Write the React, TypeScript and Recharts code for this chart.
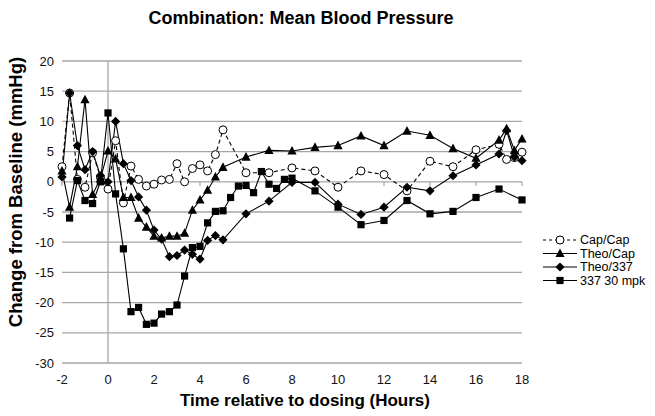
import React from "react";
import {
  LineChart,
  Line,
  XAxis,
  YAxis,
  CartesianGrid,
  ReferenceLine,
} from "recharts";

// hours relative to dosing
const times = [
  -2, -1.67, -1.33, -1, -0.67, -0.33, 0, 0.33, 0.67, 1, 1.33, 1.67, 2, 2.33, 2.67, 3, 3.33, 3.67, 4,
  4.33, 4.67, 5, 5.33, 5.67, 6, 6.33, 6.67, 7, 7.33, 7.67, 8, 9, 10, 11, 12, 13, 14, 15, 16, 17,
  17.33, 17.67, 18,
];

const capCap = [
  2.5, 14.7, 0.4, -0.9, 4.8, 0.8, -1.2, 6.8, -3.5, 2.6, 0.4, -0.7, -0.4, 0.3, 0.4, 3.0, 0.0, 2.2, 2.8,
  1.8, 4.5, 8.6, null, null, 1.5, null, null, 1.5, null, null, 2.3, 1.8, -0.9, 1.8, 1.2, -1.5, 3.4,
  2.5, 5.3, 6.2, 3.7, 4.0, 4.9,
];

const theoCap = [
  1.8, -4.2, 2.5, 13.6, -2.1, 0.5, 5.1, 3.8, -2.6, -2.6, -6.0, -7.5, -9.0, -9.3, -9.0, -9.0, -8.5,
  -4.7, -3.0, -1.4, 0.8, 2.4, null, null, 4.1, null, null, 5.2, null, null, 5.1, 5.7, 6.0, 7.6, 6.0,
  8.4, 7.7, 5.5, 3.9, 6.9, 8.8, 5.2, 7.1,
];

const theo337 = [
  0.8, 14.7, 6.0, 2.0, 5.0, 1.0, 0.0, 10.0, 3.0, 0.2, -2.5, -4.7, -8.0, -9.5, -12.4, -12.2, -11.3,
  -12.0, -12.8, -9.7, -8.9, -9.6, null, null, -5.3, null, null, -3.2, null, null, -0.1, -0.1, -3.7,
  -5.4, -4.2, -0.9, -1.5, 1.0, 2.8, 4.6, 8.5, 4.1, 3.5,
];

const mpk337 = [
  null, -6.0, 0.2, -3.1, -3.6, 0.0, 11.4, -2.0, -11.1, -21.5, -20.8, -23.6, -23.4, -21.9, -21.5,
  -20.4, -15.6, -10.9, -10.7, -6.8, -4.9, -4.8, -2.6, -0.7, -0.6, -1.8, 1.7, -0.4, -1.1, 0.4, 0.6,
  -1.5, -4.2, -7.1, -6.4, -3.1, -5.3, -4.9, -2.6, -1.2, null, null, -3.0,
];

const xTicks = [-2, 0, 2, 4, 6, 8, 10, 12, 14, 16, 18];
const yTicks = [-30, -25, -20, -15, -10, -5, 0, 5, 10, 15, 20];

const data = times.map((t, i) => ({
  t,
  capCap: capCap[i],
  theoCap: theoCap[i],
  theo337: theo337[i],
  mpk337: mpk337[i],
}));

const font = "'Liberation Sans', Arial, Helvetica, sans-serif";

type Shape = "circle" | "triangle" | "diamond" | "square";

function marker(shape: Shape, cx: number, cy: number, key?: string) {
  if (shape === "circle")
    return <circle key={key} cx={cx} cy={cy} r={4} fill="#fff" stroke="#000" strokeWidth={1} />;
  if (shape === "triangle")
    return (
      <polygon
        key={key}
        points={`${cx},${cy - 5} ${cx - 4.6},${cy + 3.6} ${cx + 4.6},${cy + 3.6}`}
        fill="#000"
      />
    );
  if (shape === "diamond")
    return (
      <polygon
        key={key}
        points={`${cx},${cy - 4.6} ${cx + 4.6},${cy} ${cx},${cy + 4.6} ${cx - 4.6},${cy}`}
        fill="#000"
      />
    );
  return <rect key={key} x={cx - 3.6} y={cy - 3.6} width={7.2} height={7.2} fill="#000" />;
}

const dotFor = (shape: Shape) => (p: any) => {
  const { cx, cy, key, value } = p;
  if (cx == null || cy == null || value == null) return <g key={key} />;
  return marker(shape, cx, cy, key);
};

const legendItems: { name: string; shape: Shape; dash?: string }[] = [
  { name: "Cap/Cap", shape: "circle", dash: "3 3" },
  { name: "Theo/Cap", shape: "triangle" },
  { name: "Theo/337", shape: "diamond" },
  { name: "337 30 mpk", shape: "square" },
];

export default function App() {
  return (
    <div style={{ position: "absolute", left: 0, top: 0, width: 655, height: 416, background: "#fff" }}>
      <LineChart
        width={655}
        height={416}
        data={data}
        margin={{ top: 61, right: 133, bottom: 23, left: 0 }}
      >
        <CartesianGrid horizontal vertical={false} stroke="#a6a6a6" strokeWidth={1.3} />
        <XAxis
          dataKey="t"
          type="number"
          domain={[-2, 18]}
          ticks={xTicks}
          axisLine={false}
          tickLine={false}
          tickMargin={6}
          height={30}
          tick={{ fill: "#111", fontSize: 13, fontFamily: font }}
        />
        <YAxis
          type="number"
          domain={[-30, 20]}
          ticks={yTicks}
          width={62}
          axisLine={false}
          tickLine={false}
          interval={0}
          tick={{ fill: "#111", fontSize: 13, fontFamily: font }}
        />
        <ReferenceLine x={0} stroke="#a6a6a6" strokeWidth={1.3} />
        {xTicks.map((t) => (
          <ReferenceLine
            key={t}
            segment={[
              { x: t, y: 0 },
              { x: t, y: -0.7 },
            ]}
            stroke="#a6a6a6"
            strokeWidth={1.2}
          />
        ))}
        <Line
          dataKey="capCap"
          stroke="#000"
          strokeWidth={1.1}
          strokeDasharray="4 3"
          dot={dotFor("circle")}
          activeDot={false}
          connectNulls
          isAnimationActive={false}
        />
        <Line
          dataKey="theoCap"
          stroke="#000"
          strokeWidth={1.1}
          dot={dotFor("triangle")}
          activeDot={false}
          connectNulls
          isAnimationActive={false}
        />
        <Line
          dataKey="theo337"
          stroke="#000"
          strokeWidth={1.1}
          dot={dotFor("diamond")}
          activeDot={false}
          connectNulls
          isAnimationActive={false}
        />
        <Line
          dataKey="mpk337"
          stroke="#000"
          strokeWidth={1.1}
          dot={dotFor("square")}
          activeDot={false}
          connectNulls
          isAnimationActive={false}
        />
      </LineChart>
      <svg
        width={655}
        height={416}
        style={{ position: "absolute", left: 0, top: 0, pointerEvents: "none" }}
      >
        <text
          x={301}
          y={24}
          textAnchor="middle"
          fontFamily={font}
          fontWeight="bold"
          fontSize={18}
          fill="#000"
        >
          Combination: Mean Blood Pressure
        </text>
        <text
          x={305}
          y={406}
          textAnchor="middle"
          fontFamily={font}
          fontWeight="bold"
          fontSize={17}
          fill="#000"
        >
          Time relative to dosing (Hours)
        </text>
        <text
          transform="translate(22,192) rotate(-90)"
          textAnchor="middle"
          fontFamily={font}
          fontWeight="bold"
          fontSize={18.5}
          fill="#000"
        >
          Change from Baseline (mmHg)
        </text>
        {legendItems.map((it, i) => {
          const y = 240 + i * 13.5;
          return (
            <g key={it.name}>
              <line
                x1={543}
                x2={577}
                y1={y}
                y2={y}
                stroke="#000"
                strokeWidth={1.1}
                strokeDasharray={it.dash}
              />
              {marker(it.shape, 560, y)}
              <text
                x={580}
                y={y}
                dominantBaseline="central"
                fontFamily={font}
                fontSize={12.5}
                fill="#000"
              >
                {it.name}
              </text>
            </g>
          );
        })}
      </svg>
    </div>
  );
}
